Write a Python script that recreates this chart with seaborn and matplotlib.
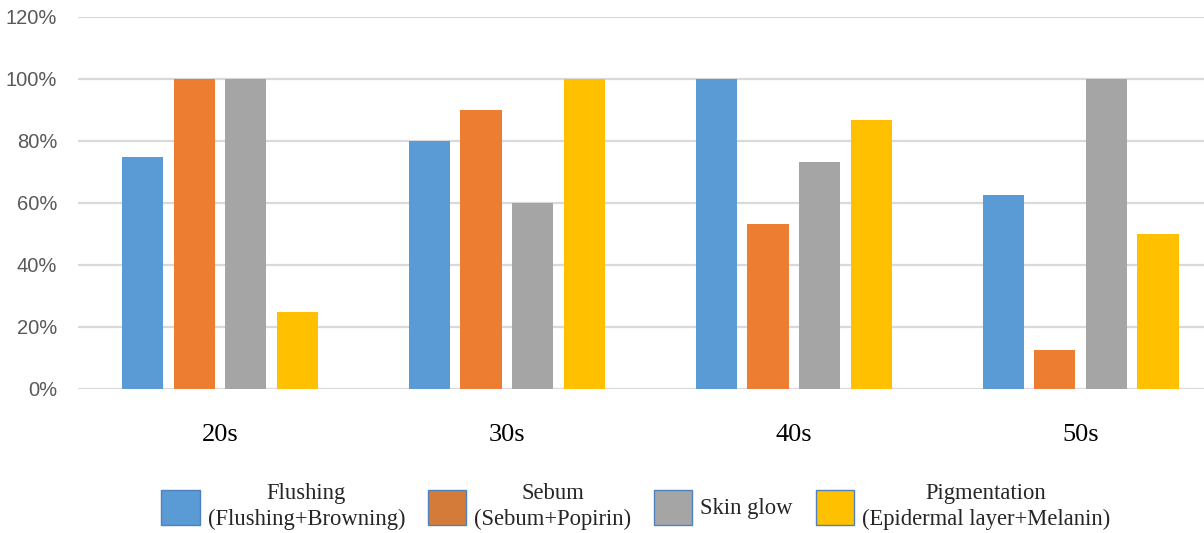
import matplotlib
matplotlib.use("Agg")
import matplotlib.pyplot as plt
import seaborn as sns
import pandas as pd
from matplotlib.patches import Patch

categories = ["20s", "30s", "40s", "50s"]
series_names = [
    "Flushing\n(Flushing+Browning)",
    "Sebum\n(Sebum+Popirin)",
    "Skin glow",
    "Pigmentation\n(Epidermal layer+Melanin)",
]
flushing = [75, 80, 100, 62.5]
sebum = [100, 90, 53.3, 12.5]
skin_glow = [100, 60, 73.3, 100]
pigmentation = [25, 100, 86.7, 50]
y_ticks = [0, 20, 40, 60, 80, 100, 120]
y_tick_labels = ["0%", "20%", "40%", "60%", "80%", "100%", "120%"]

colors = ["#5B9BD5", "#ED7D31", "#A5A5A5", "#FFC000"]
legend_colors = ["#5B9BD5", "#D57B3A", "#A5A5A5", "#FFC000"]

rows = []
for name, vals in zip(series_names, [flushing, sebum, skin_glow, pigmentation]):
    for c, v in zip(categories, vals):
        rows.append({"age": c, "series": name, "value": v})
df = pd.DataFrame(rows)

sns.set_theme(style="white")
fig = plt.figure(figsize=(12.04, 5.33), dpi=100)
ax = fig.add_axes([78 / 1204, 1 - 389 / 533, 1 - 78 / 1204, (389 - 17) / 533])

sns.barplot(data=df, x="age", y="value", hue="series", order=categories,
            hue_order=series_names, palette=colors, width=0.72, gap=0.2,
            saturation=1, linewidth=0, ax=ax, legend=False, zorder=3)

ax.set_ylim(0, 120)
ax.set_xlim(-0.495, 3.43)
ax.set_yticks(y_ticks)
ax.set_yticklabels(y_tick_labels, fontsize=14.5, color="#595959",
                   family="Liberation Sans")
ax.set_xticks(range(len(categories)))
ax.set_xticklabels(categories, fontsize=19, color="#000000",
                   family="Liberation Serif")
ax.tick_params(axis="x", length=0, pad=25)
ax.tick_params(axis="y", length=0, pad=15)
ax.yaxis.grid(True, color="#D9D9D9", linewidth=1.6, zorder=0)
ax.xaxis.grid(False)
for s in ax.spines.values():
    s.set_visible(False)
ax.set_xlabel("")
ax.set_ylabel("")

handles = [Patch(facecolor=c, edgecolor="#4F81BD", linewidth=1) for c in legend_colors]
leg = fig.legend(handles, series_names, loc="center", bbox_to_anchor=(0.528, 0.05),
                 ncol=4, frameon=False, prop={"family": "Liberation Serif", "size": 16.3},
                 handlelength=1.7, handleheight=2.0, handletextpad=0.35,
                 columnspacing=1.0)
for t in leg.get_texts():
    t.set_multialignment("center")
    t.set_linespacing(1.3)

fig.savefig("out.png", dpi=100)
